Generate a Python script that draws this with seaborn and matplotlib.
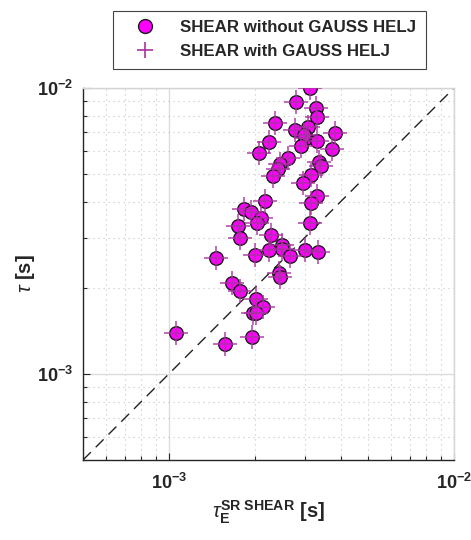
import matplotlib
matplotlib.use("Agg")
import matplotlib.pyplot as plt
import numpy as np
import pandas as pd
import seaborn as sns
from matplotlib.ticker import FixedLocator, LogLocator, NullFormatter, FuncFormatter
from matplotlib.lines import Line2D

# Relaxation times: SR-shear estimate (x) against fitted tau (y), seconds
tau_e_sr_shear = [
    3.13e-3, 2.79e-3, 3.28e-3, 3.31e-3, 2.36e-3, 2.77e-3, 3.08e-3, 3.83e-3,
    3.03e-3, 2.98e-3, 3.31e-3, 2.24e-3, 2.90e-3, 3.73e-3, 2.07e-3, 2.62e-3,
    2.45e-3, 3.36e-3, 3.42e-3, 2.42e-3, 2.32e-3, 3.15e-3, 2.95e-3, 3.31e-3,
    2.17e-3, 3.15e-3, 1.83e-3, 1.94e-3, 2.10e-3, 2.04e-3, 1.75e-3, 3.13e-3,
    2.28e-3, 1.78e-3, 2.49e-3, 2.49e-3, 2.24e-3, 3.00e-3, 3.33e-3, 2.00e-3,
    2.66e-3, 1.46e-3, 2.43e-3, 2.45e-3, 1.66e-3, 1.78e-3, 2.02e-3, 2.14e-3,
    1.97e-3, 2.02e-3, 1.96e-3, 1.06e-3, 1.57e-3,
]
tau_fit = [
    1.00e-2, 8.90e-3, 8.50e-3, 7.90e-3, 7.53e-3, 7.11e-3, 7.29e-3, 6.94e-3,
    6.67e-3, 6.83e-3, 6.51e-3, 6.46e-3, 6.25e-3, 6.10e-3, 5.91e-3, 5.67e-3,
    5.41e-3, 5.49e-3, 5.32e-3, 5.19e-3, 4.91e-3, 4.95e-3, 4.64e-3, 4.18e-3,
    4.04e-3, 3.95e-3, 3.79e-3, 3.67e-3, 3.52e-3, 3.36e-3, 3.28e-3, 3.36e-3,
    3.05e-3, 3.00e-3, 2.83e-3, 2.74e-3, 2.72e-3, 2.72e-3, 2.68e-3, 2.61e-3,
    2.59e-3, 2.55e-3, 2.26e-3, 2.19e-3, 2.08e-3, 1.95e-3, 1.83e-3, 1.72e-3,
    1.64e-3, 1.64e-3, 1.35e-3, 1.39e-3, 1.27e-3,
]
series_labels = ["SHEAR without GAUSS HELJ", "SHEAR with GAUSS HELJ"]
axis_range = [5e-4, 1e-2]
labelled_ticks = [1e-3, 1e-2]

sns.set_theme(style="white")
plt.rcParams["font.family"] = ["Liberation Sans", "DejaVu Sans"]
plt.rcParams["mathtext.fontset"] = "custom"
plt.rcParams["mathtext.rm"] = "Liberation Sans:bold"
plt.rcParams["mathtext.bf"] = "Liberation Sans:bold"
plt.rcParams["mathtext.it"] = "Liberation Sans:italic"
plt.rcParams["mathtext.default"] = "bf"

df = pd.DataFrame({"tau_e": tau_e_sr_shear, "tau": tau_fit})

fig = plt.figure(figsize=(4.71, 5.40), dpi=100)
ax = fig.add_axes([0.1762, 0.1481, 0.7877, 0.6889])
ax.set_xscale("log")
ax.set_yscale("log")

magenta = "#ff00ff"
plus_col = "#a8339f"

sns.scatterplot(data=df, x="tau_e", y="tau", ax=ax, marker="o", s=95,
                color=magenta, edgecolor="#1a1a1a", linewidth=1.0, zorder=3,
                legend=False)
sns.scatterplot(data=df, x="tau_e", y="tau", ax=ax, marker="+", s=320,
                color=plus_col, linewidth=1.2, alpha=0.85, zorder=4,
                legend=False)

# 1:1 reference line
ax.plot(axis_range, axis_range, color="#222222", lw=1.0,
        ls=(0, (8, 5)), zorder=2)

ax.set_xlim(axis_range)
ax.set_ylim(axis_range)

for axis in (ax.xaxis, ax.yaxis):
    axis.set_major_locator(FixedLocator(labelled_ticks))
    axis.set_minor_locator(LogLocator(base=10, subs=np.arange(2, 10), numticks=20))
    axis.set_minor_formatter(NullFormatter())
    axis.set_major_formatter(FuncFormatter(
        lambda v, p: r"$\mathbf{10^{%d}}$" % int(round(np.log10(v)))))

ax.grid(which="major", color="#dcdcdc", lw=1.0, ls="-")
ax.grid(which="minor", color="#c4c4c4", lw=0.8, ls=(0, (1, 3.5)))
ax.set_axisbelow(True)

ax.tick_params(which="both", direction="in", top=False, right=False,
               left=True, bottom=True, color="#262626")
ax.tick_params(which="major", length=5, width=0.8, labelsize=13)
ax.tick_params(which="minor", length=3, width=0.8)
ax.tick_params(axis="x", which="major", pad=9)
ax.tick_params(axis="y", which="major", pad=7)

for side in ("left", "bottom"):
    ax.spines[side].set_color("#262626")
    ax.spines[side].set_linewidth(1.0)
for side in ("top", "right"):
    ax.spines[side].set_color("#d4d4d4")
    ax.spines[side].set_linewidth(1.0)

ax.set_xlabel(r"$\mathit{\tau}_{\mathbf{E}}^{\mathbf{SR\ SHEAR}}$ [s]",
              fontsize=14.5, fontweight="bold", labelpad=4)
ax.set_ylabel(r"$\mathit{\tau}$ [s]", fontsize=14.5, fontweight="bold",
              labelpad=0)

handles = [
    Line2D([], [], ls="none", marker="o", markersize=10,
           markerfacecolor=magenta, markeredgecolor="#1a1a1a",
           markeredgewidth=1.0),
    Line2D([], [], ls="none", marker="+", markersize=12,
           color=plus_col, markeredgewidth=1.2),
]
leg = fig.legend(handles, series_labels, loc="upper center",
                 bbox_to_anchor=(0.572, 0.996), frameon=True,
                 fancybox=False, edgecolor="#444444", framealpha=1,
                 prop={"weight": "bold", "size": 12.2},
                 handletextpad=0.8, borderpad=0.55, labelspacing=0.55,
                 handlelength=2.6)
leg.get_frame().set_linewidth(0.8)

fig.savefig("out.png", dpi=100)
